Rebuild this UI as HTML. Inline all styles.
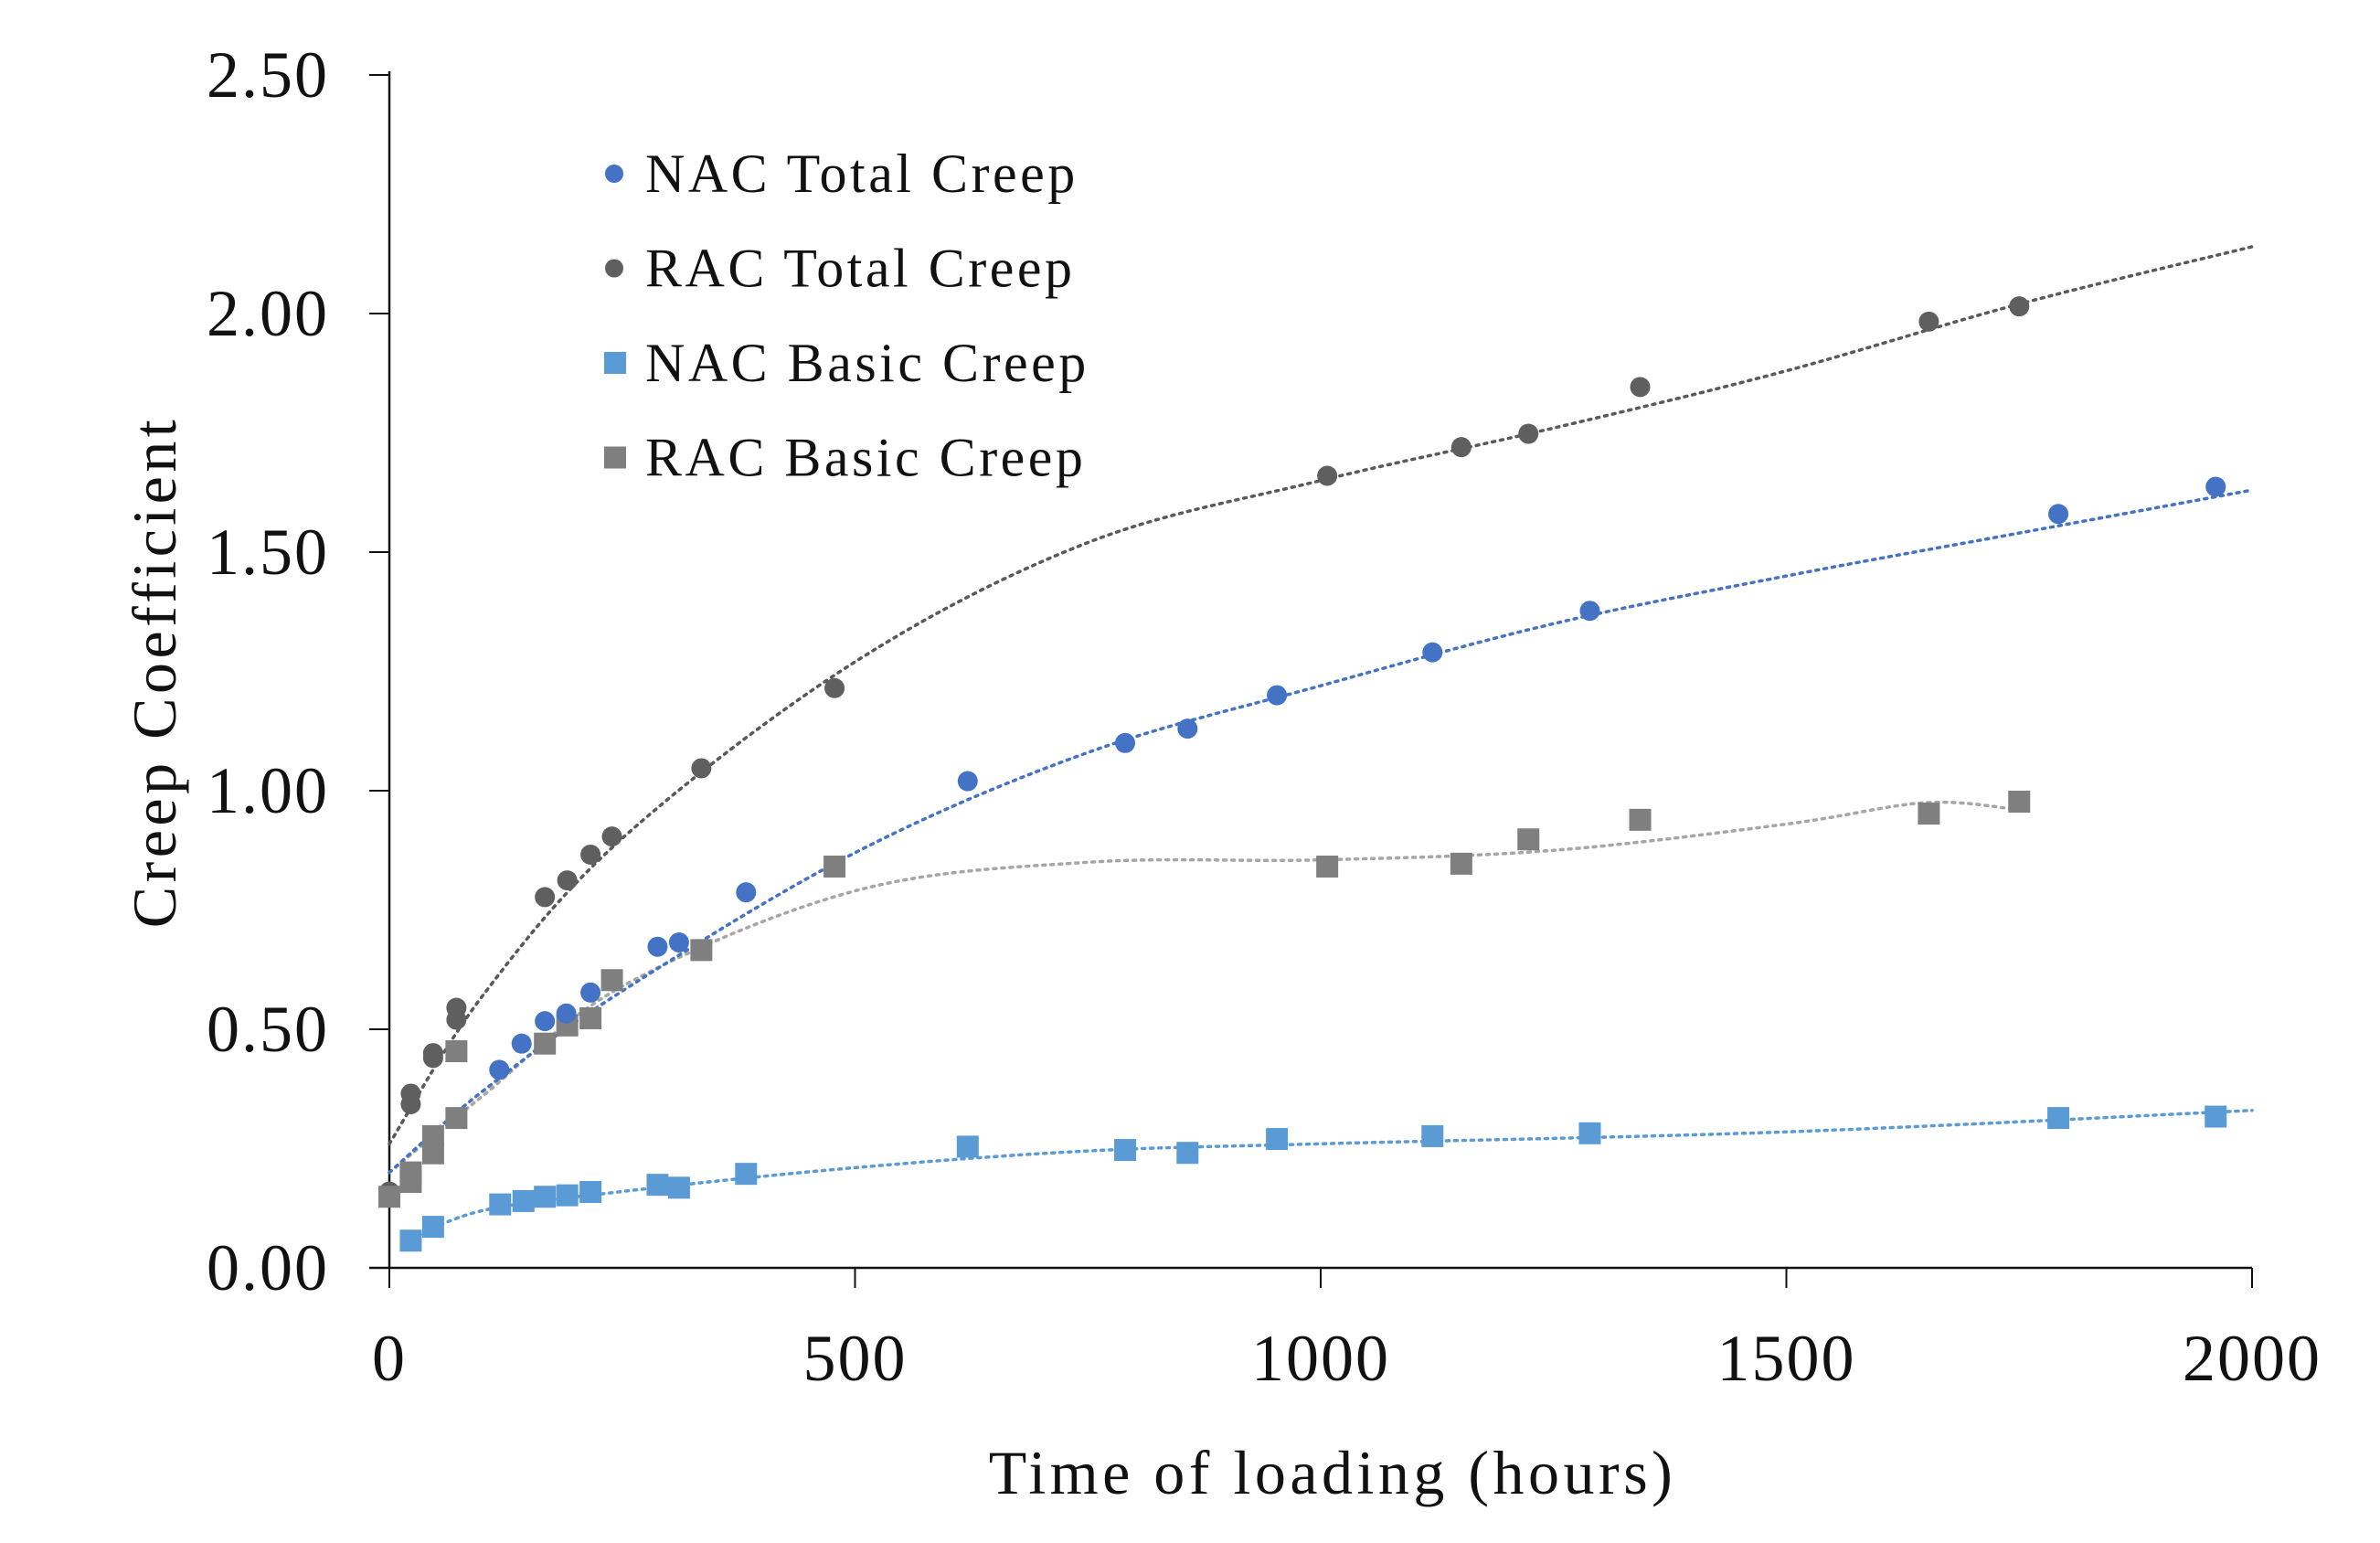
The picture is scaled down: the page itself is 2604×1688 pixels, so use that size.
<!DOCTYPE html>
<html><head><meta charset="utf-8"><style>
html,body{margin:0;padding:0;background:#fff;}
svg{display:block;}
text{font-family:"Liberation Serif",serif;fill:#111;}
</style></head><body>
<svg id="chart" width="2604" height="1688" viewBox="0 0 2604 1688" xmlns="http://www.w3.org/2000/svg">
<g id="grid"></g>
<g id="trends"></g>
<g id="marks"></g>
<g id="legend"></g>
<text x="0" y="0" font-size="68" letter-spacing="4.5" text-anchor="middle" transform="translate(192,735) rotate(-90)">Creep Coefficient</text>
<text x="1458" y="1634" font-size="68" letter-spacing="4.5" text-anchor="middle">Time of  loading (hours)</text>
</svg>
<script>
const xTicks=[0,500,1000,1500,2000];
const yTicks=[0,0.5,1,1.5,2,2.5];
const yTickLabels=["0.00","0.50","1.00","1.50","2.00","2.50"];
const seriesNames=["NAC Total Creep","RAC Total Creep","NAC Basic Creep","RAC Basic Creep"];
const nacTotalX=[118,142,167,190,216,288,311,383,621,790,857,953,1120,1289,1792,1961];
const nacTotalY=[0.415,0.47,0.517,0.533,0.577,0.673,0.682,0.787,1.02,1.10,1.13,1.20,1.29,1.377,1.58,1.637];
const racTotalX=[0,23,23,47,47,72,72,167,191,216,239,335,478,1007,1151,1223,1343,1653,1750];
const racTotalY=[0.16,0.365,0.343,0.44,0.45,0.545,0.52,0.777,0.812,0.866,0.904,1.047,1.215,1.66,1.72,1.748,1.846,1.983,2.015];
const nacBasicX=[23,47,119,144,167,191,216,288,311,383,621,790,857,953,1120,1289,1792,1961];
const nacBasicY=[0.057,0.086,0.133,0.14,0.149,0.152,0.159,0.174,0.168,0.197,0.254,0.247,0.241,0.27,0.276,0.282,0.314,0.317];
const racBasicX=[0,23,23,47,47,72,72,167,191,216,239,335,478,1007,1151,1223,1343,1653,1750];
const racBasicY=[0.149,0.18,0.2,0.24,0.276,0.314,0.454,0.47,0.508,0.523,0.603,0.666,0.841,0.841,0.847,0.898,0.939,0.952,0.977];
const racTotalTrendX=[0,100,250,500,750,1000,1250,1500,1750,2000];
const racTotalTrendY=[0.26,0.57,0.9,1.27,1.52,1.65,1.76,1.88,2.02,2.14];
const nacTotalTrendX=[0,100,250,500,750,1000,1250,1500,1750,2000];
const nacTotalTrendY=[0.2,0.37,0.58,0.87,1.08,1.22,1.35,1.45,1.54,1.63];
const nacBasicTrendX=[23,100,250,500,750,1000,1500,2000];
const nacBasicTrendY=[0.06,0.12,0.16,0.21,0.245,0.26,0.285,0.33];
const racBasicTrendX=[0,100,250,500,750,1000,1250,1500,1650,1750];
const racBasicTrendY=[0.2,0.36,0.59,0.79,0.85,0.855,0.875,0.93,0.975,0.96];

const NS="http://www.w3.org/2000/svg";
const X0=426,X1=2464,Y0=1387,Y1=82;
function sx(v){return X0+(v-0)/(2000-0)*(X1-X0);}
function sy(v){return Y0-(v-0)/(2.5-0)*(Y0-Y1);}
function mk(tag,attrs,parent){const e=document.createElementNS(NS,tag);for(const k in attrs)e.setAttribute(k,attrs[k]);parent.appendChild(e);return e;}
const grid=document.getElementById('grid'),trends=document.getElementById('trends'),marks=document.getElementById('marks'),legend=document.getElementById('legend');

let ax=mk('line',{x1:X0,y1:Y1-4,x2:X0,y2:Y0,stroke:'#111','stroke-width':2.5},grid);


let bx=mk('line',{x1:X0-22,y1:Y0,x2:X1,y2:Y0,stroke:'#111','stroke-width':2.5},grid);


yTicks.forEach((v,i)=>{
  const t=mk('line',{x1:X0-22,y1:sy(v),x2:X0,y2:sy(v),stroke:'#111','stroke-width':2},grid);
  
  
  const l=mk('text',{x:360,y:sy(v)+24,'font-size':72,'letter-spacing':2,'text-anchor':'end'},grid);
  l.textContent=yTickLabels[i];
  
  
});
xTicks.forEach(v=>{
  const t=mk('line',{x1:sx(v),y1:Y0,x2:sx(v),y2:Y0+22,stroke:'#111','stroke-width':2},grid);
  
  
  const l=mk('text',{x:sx(v),y:1510,'font-size':72,'letter-spacing':2,'text-anchor':'middle'},grid);
  l.textContent=String(v);
  
  
});

function smooth(xs,ys){
  const p=xs.map((x,i)=>[sx(x),sy(ys[i])]);
  let d='M'+p[0][0]+','+p[0][1];
  for(let i=0;i<p.length-1;i++){
    const p0=p[i-1]||p[i],p1=p[i],p2=p[i+1],p3=p[i+2]||p2;
    const c1=[p1[0]+(p2[0]-p0[0])/6,p1[1]+(p2[1]-p0[1])/6];
    const c2=[p2[0]-(p3[0]-p1[0])/6,p2[1]-(p3[1]-p1[1])/6];
    d+=' C'+c1[0]+','+c1[1]+' '+c2[0]+','+c2[1]+' '+p2[0]+','+p2[1];
  }
  return d;
}
function trend(xs,ys,color,name){
  const p=mk('path',{d:smooth(xs,ys),fill:'none',stroke:color,'stroke-width':3.5,'stroke-dasharray':'3 6','stroke-linecap':'round'},trends);
  
  
}
trend(racBasicTrendX,racBasicTrendY,'#a6a6a6','rac-basic-trendline');
trend(nacBasicTrendX,nacBasicTrendY,'#5b9bd5','nac-basic-trendline');
trend(racTotalTrendX,racTotalTrendY,'#595959','rac-total-trendline');
trend(nacTotalTrendX,nacTotalTrendY,'#4472c4','nac-total-trendline');

function circles(xs,ys,color,name){
  xs.forEach((x,i)=>{
    const c=mk('circle',{cx:sx(x),cy:sy(ys[i]),r:11,fill:color},marks);
    
    
  });
}
function squares(xs,ys,color,name){
  xs.forEach((x,i)=>{
    const r=mk('rect',{x:sx(x)-12,y:sy(ys[i])-12,width:24,height:24,fill:color},marks);
    
    
  });
}
circles(racTotalX,racTotalY,'#5f5f5f','rac-total-point');
squares(racBasicX,racBasicY,'#7f7f7f','rac-basic-point');
squares(nacBasicX,nacBasicY,'#5b9bd5','nac-basic-point');
circles(nacTotalX,nacTotalY,'#4472c4','nac-total-point');

const legColors=['#4472c4','#5f5f5f','#5b9bd5','#7f7f7f'];
const legShapes=['c','c','s','s'];
seriesNames.forEach((n,i)=>{
  const y=190+i*103.5;
  let m;
  if(legShapes[i]==='c') m=mk('circle',{cx:672,cy:y,r:10,fill:legColors[i]},legend);
  else m=mk('rect',{x:661,y:y-12,width:24,height:24,fill:legColors[i]},legend);
  
  
  const t=mk('text',{x:706,y:y+20,'font-size':60,'letter-spacing':3.5},legend);
  t.textContent=n;
  
  
});
</script>
</body></html>
